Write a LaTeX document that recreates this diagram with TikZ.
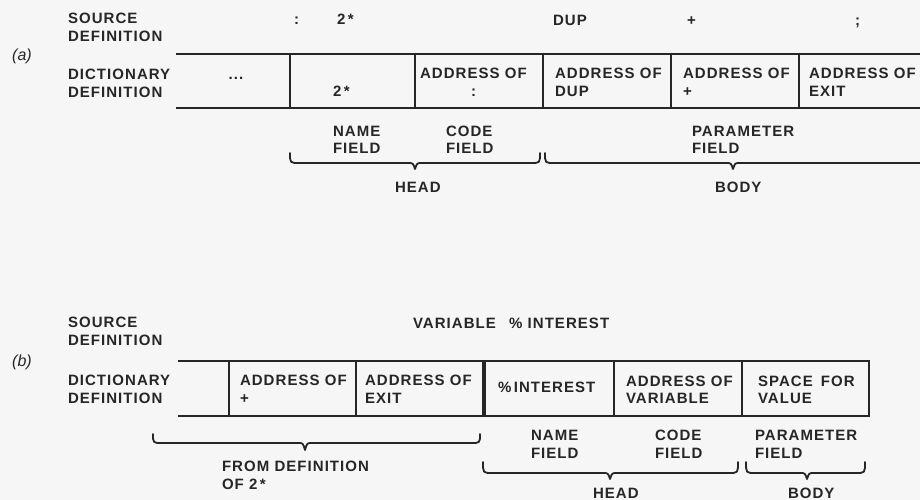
\documentclass[tikz,border=0pt]{standalone}
\usepackage{fontspec}
\setmainfont{Liberation Sans}
\newfontfamily\labfont[LetterSpace=7]{Liberation Sans}
\definecolor{ink}{HTML}{262626}
\definecolor{bgc}{HTML}{F6F6F6}
\newcommand\myBrace[6]{%
  \draw[bracel] (#1,#4) .. controls (#1,#5) .. (#1+9,#5) -- (#3-7,#5)
    .. controls (#3-2,#5) .. (#3,#6) .. controls (#3+2,#5) .. (#3+7,#5)
    -- (#2-9,#5) .. controls (#2,#5) .. (#2,#4);}
\begin{document}
\begin{tikzpicture}[x=1pt,y=-1pt,
  lab/.style={anchor=base west, inner sep=0pt, outer sep=0pt, text=ink,
    font=\labfont\bfseries\fontsize{15}{17}\selectfont},
  labc/.style={lab, anchor=base},
  itl/.style={inner sep=0pt, text=ink, font=\itshape\fontsize{16}{18}\selectfont},
  tline/.style={draw=ink, line width=2.2pt},
  bracel/.style={draw=ink, line width=1.8pt, line cap=round, line join=round}]
\fill[bgc] (0,0) rectangle (920,500);
\useasboundingbox (0,0) rectangle (920,500);

% ---------------- (a) ----------------
\node[lab] (sa1) at (68,24) {SOURCE};
\node[lab] (sa2) at (68,42) {DEFINITION};
\node[itl] (la) at (22,56) {(a)};
\node[lab] (da1) at (68,80) {DICTIONARY};
\node[lab] (da2) at (68,98) {DEFINITION};

\node[lab] (srcA1) at (294,25) {:};
\node[lab] (srcA2) at (337,25) {2\,*};
\node[lab] (srcA3) at (553,26) {DUP};
\node[lab] (srcA4) at (687,26) {+};
\node[lab] (srcA5) at (855,26) {;};

\draw[tline] (176,54) -- (920,54);
\draw[tline] (176,108) -- (920,108);
\foreach \xx in {290,415,543,671,799} \draw[tline] (\xx,54) -- (\xx,108);

\node[labc] (ca0) at (236,80) {...};
\node[lab] (ca1) at (333,97) {2\,*};
\node[lab] (ca2a) at (420,79) {ADDRESS OF};
\node[lab] (ca2b) at (471,97) {:};
\node[lab] (ca3a) at (555,79) {ADDRESS OF};
\node[lab] (ca3b) at (555,97) {DUP};
\node[lab] (ca4a) at (683,79) {ADDRESS OF};
\node[lab] (ca4b) at (683,97) {+};
\node[lab] (ca5a) at (809,79) {ADDRESS OF};
\node[lab] (ca5b) at (809,97) {EXIT};

\node[lab] (na1) at (333,136) {NAME};
\node[lab] (na2) at (333,153) {FIELD};
\node[lab] (co1) at (446,136) {CODE};
\node[lab] (co2) at (446,153) {FIELD};
\node[lab] (pa1) at (692,136) {PARAMETER};
\node[lab] (pa2) at (692,153) {FIELD};

\myBrace{290}{540}{415}{153}{163}{169}
\draw[bracel] (545,153) .. controls (545,163) .. (554,163) -- (726,163)
  .. controls (731,163) .. (733,169) .. controls (735,163) .. (740,163) -- (921,163);

\node[lab] (ha) at (395,192) {HEAD};
\node[lab] (ba) at (715,192) {BODY};

% ---------------- (b) ----------------
\node[lab] (sb1) at (68,327) {SOURCE};
\node[lab] (sb2) at (68,345) {DEFINITION};
\node[itl] (lb) at (22,362) {(b)};
\node[lab] (db1) at (68,385) {DICTIONARY};
\node[lab] (db2) at (68,403) {DEFINITION};

\node[lab] (srcB) at (413,328) {VARIABLE\hspace{8pt} \% INTEREST};

\draw[tline] (178,361) -- (869,361) -- (869,416) -- (178,416);
\foreach \xx in {229,356,614,742} \draw[tline] (\xx,361) -- (\xx,416);
\draw[draw=ink, line width=3.8pt] (484,361) -- (484,416);

\node[lab] (cb1a) at (240,385) {ADDRESS OF};
\node[lab] (cb1b) at (240,403) {+};
\node[lab] (cb2a) at (365,385) {ADDRESS OF};
\node[lab] (cb2b) at (365,403) {EXIT};
\node[lab] (cb3) at (498,392) {\%\,INTEREST};
\node[lab] (cb4a) at (626,386) {ADDRESS OF};
\node[lab] (cb4b) at (626,403) {VARIABLE};
\node[lab] (cb5a) at (758,386) {SPACE\hspace{3pt} FOR};
\node[lab] (cb5b) at (758,403) {VALUE};

\node[lab] (nb1) at (531,440) {NAME};
\node[lab] (nb2) at (531,458) {FIELD};
\node[lab] (cob1) at (655,440) {CODE};
\node[lab] (cob2) at (655,458) {FIELD};
\node[lab] (pb1) at (755,440) {PARAMETER};
\node[lab] (pb2) at (755,458) {FIELD};

\myBrace{153}{480}{305}{434}{443}{450}
\node[lab] (fd1) at (222,471) {FROM DEFINITION};
\node[lab] (fd2) at (222,489) {OF 2\,*};

\myBrace{483}{738}{610}{462}{473}{479}
\myBrace{746}{865}{807}{462}{473}{479}
\node[lab] (hb) at (593,498) {HEAD};
\node[lab] (bb) at (788,498) {BODY};
\end{tikzpicture}
\end{document}
